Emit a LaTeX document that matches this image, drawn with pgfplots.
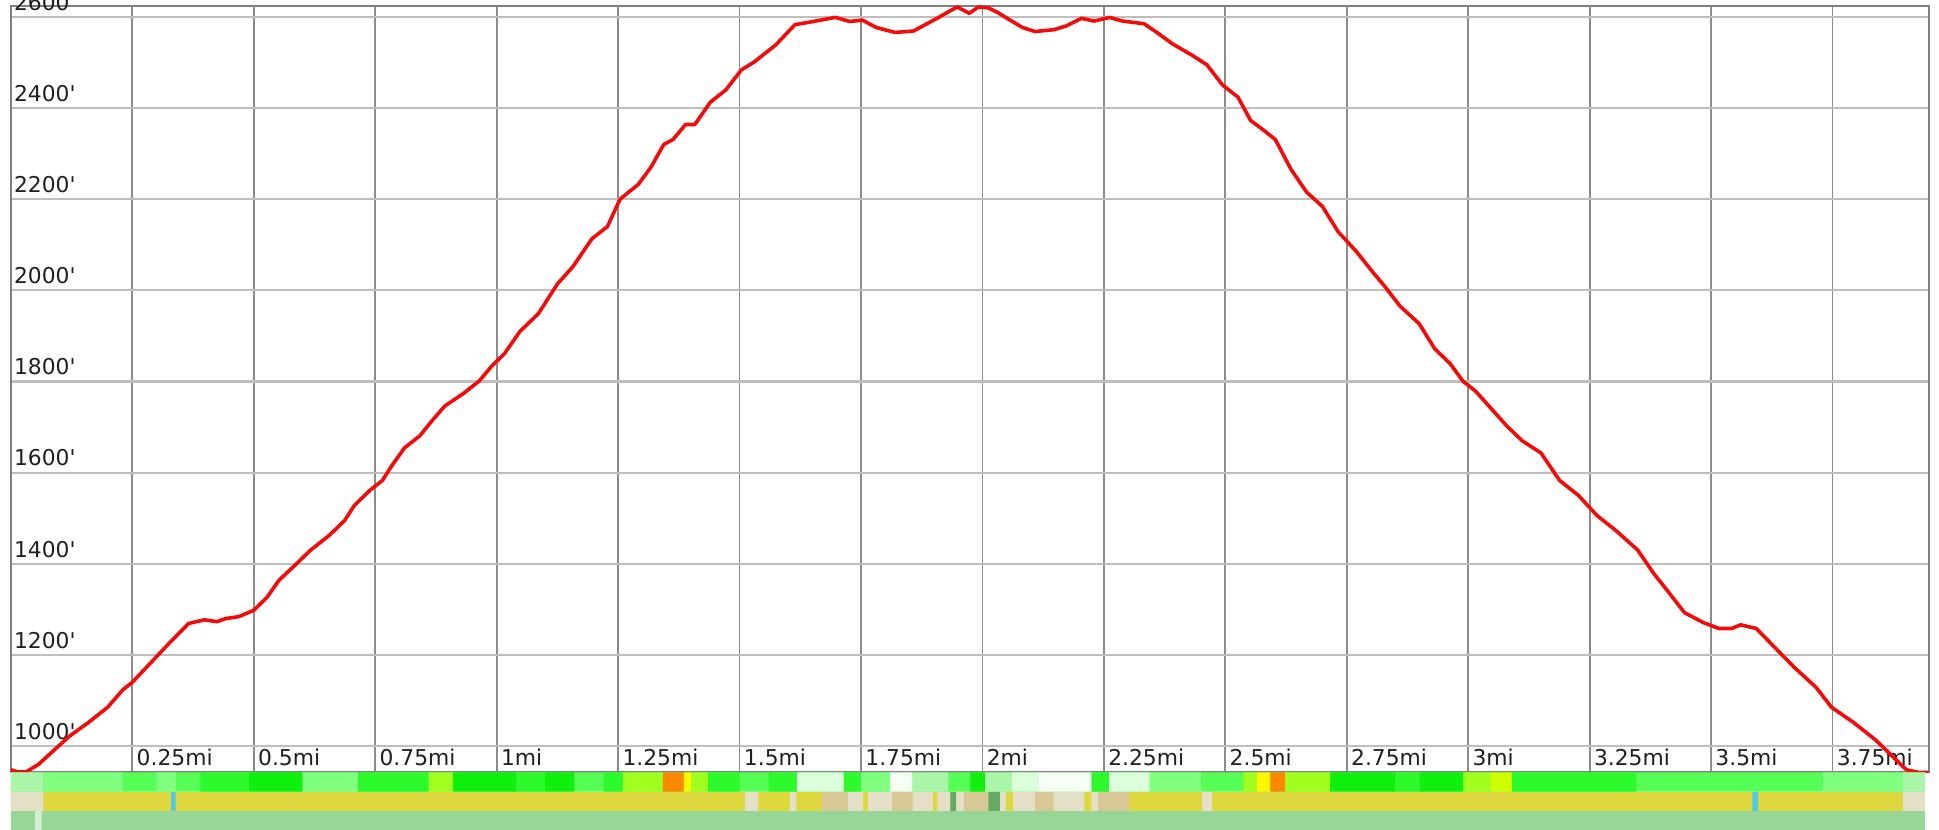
\documentclass[border=0pt]{standalone}
\usepackage{pgfplots}
\pgfplotsset{compat=1.18}
\usepackage{fontspec}
\setmainfont{DejaVu Sans}
\definecolor{cA}{RGB}{170,245,170}
\definecolor{cB}{RGB}{128,255,128}
\definecolor{cC}{RGB}{85,255,85}
\definecolor{cD}{RGB}{45,250,45}
\definecolor{cE}{RGB}{15,240,15}
\definecolor{cF}{RGB}{160,255,30}
\definecolor{cFF}{RGB}{205,255,0}
\definecolor{cG}{RGB}{255,245,0}
\definecolor{cH}{RGB}{255,135,0}
\definecolor{cI}{RGB}{220,255,220}
\definecolor{cJ}{RGB}{245,255,245}
\definecolor{cK}{RGB}{220,216,62}
\definecolor{cL}{RGB}{228,224,200}
\definecolor{cM}{RGB}{216,200,150}
\definecolor{cN}{RGB}{80,200,230}
\definecolor{cO}{RGB}{100,170,100}
\definecolor{cP}{RGB}{150,214,150}
\definecolor{cQ}{RGB}{215,238,215}
\definecolor{gridv}{RGB}{140,140,140}
\definecolor{gridh}{RGB}{190,190,190}
\definecolor{frame}{RGB}{128,128,128}
\definecolor{trail}{RGB}{245,10,10}

\pgfplotstableread{
x y
0.000 948
0.015 943
0.031 943
0.057 960
0.096 998
0.121 1022
0.160 1052
0.199 1085
0.231 1124
0.250 1140
0.289 1184
0.327 1227
0.366 1269
0.398 1277
0.424 1273
0.443 1280
0.469 1284
0.500 1298
0.527 1326
0.552 1364
0.585 1397
0.617 1430
0.655 1462
0.687 1495
0.707 1528
0.739 1561
0.765 1583
0.784 1615
0.810 1654
0.842 1681
0.867 1714
0.893 1746
0.932 1774
0.964 1801
0.990 1834
1.016 1861
1.048 1910
1.086 1949
1.125 2014
1.157 2052
1.196 2113
1.228 2140
1.254 2200
1.292 2233
1.318 2271
1.344 2320
1.363 2331
1.389 2364
1.408 2364
1.440 2413
1.472 2440
1.504 2484
1.530 2501
1.575 2539
1.614 2583
1.652 2590
1.697 2599
1.727 2590
1.753 2593
1.781 2577
1.820 2566
1.858 2569
1.910 2599
1.948 2622
1.973 2608
1.992 2622
2.012 2620
2.031 2610
2.057 2593
2.082 2577
2.108 2568
2.147 2572
2.172 2580
2.204 2597
2.230 2591
2.262 2599
2.288 2591
2.333 2585
2.359 2566
2.391 2541
2.430 2517
2.462 2495
2.494 2451
2.526 2424
2.552 2373
2.577 2353
2.603 2331
2.635 2266
2.667 2216
2.700 2184
2.732 2129
2.770 2085
2.802 2042
2.828 2009
2.860 1965
2.899 1927
2.931 1872
2.963 1839
2.989 1801
3.015 1779
3.047 1741
3.079 1703
3.111 1670
3.150 1643
3.188 1583
3.227 1550
3.265 1506
3.304 1473
3.349 1430
3.381 1380
3.413 1337
3.445 1293
3.484 1271
3.516 1258
3.542 1258
3.561 1266
3.593 1258
3.626 1222
3.671 1173
3.716 1129
3.748 1085
3.793 1052
3.838 1014
3.870 981
3.902 948
3.928 942
3.947 942
}\profile

\begin{document}
\begin{tikzpicture}
\useasboundingbox (-5.45pt,-28.75pt) rectangle (964.05pt,386.25pt);
\begin{axis}[
  at={(0pt,0pt)}, anchor=south west,
  scale only axis, width=958.9pt, height=383.25pt,
  xmin=0, xmax=3.948, ymin=942, ymax=2624,
  xtick={0.25,0.5,0.75,1,1.25,1.5,1.75,2,2.25,2.5,2.75,3,3.25,3.5,3.75},
  xticklabels={0.25mi,0.5mi,0.75mi,1mi,1.25mi,1.5mi,1.75mi,2mi,2.25mi,2.5mi,2.75mi,3mi,3.25mi,3.5mi,3.75mi},
  ytick={1000,1200,1400,1600,1800,2000,2200,2400,2600},
  yticklabels={1000\textquotesingle,1200\textquotesingle,1400\textquotesingle,1600\textquotesingle,1800\textquotesingle,2000\textquotesingle,2200\textquotesingle,2400\textquotesingle,2600\textquotesingle},
  major tick length=0pt,
  tick style={draw=none},
  xmajorgrids, ymajorgrids,
  x grid style={color=gridv, line width=0.9pt},
  y grid style={color=gridh, line width=1.1pt},
  axis line style={color=frame, line width=1pt},
  xticklabel style={anchor=south west, inner xsep=2pt, inner ysep=3.2pt, font=\fontsize{10.9}{12}\selectfont, text=black!88},
  yticklabel style={anchor=south west, inner xsep=1.4pt, inner ysep=3pt, font=\fontsize{10.9}{12}\selectfont, text=black!88},
]
\addplot[color=trail, line width=1.8pt, line join=round, line cap=round, no marks] table[x=x, y=y] {\profile};
\end{axis}

\begin{axis}[
  at={(0pt,0pt)}, anchor=north west,
  scale only axis, width=958.9pt, height=28.75pt,
  xmin=0, xmax=3.948, ymin=0, ymax=3,
  axis lines=none, ticks=none,
  unbounded coords=jump,
  every axis plot/.append style={draw=none, no marks},
]
% row 3 (bottom)
\addplot[fill=cP] coordinates {(0,0) (3.94,0) (3.94,1) (0,1) (0,0)};
\addplot[fill=cQ] coordinates {(0.050,0) (0.063,0) (0.063,1) (0.050,1) (0.050,0)};
% row 2 (middle)
\addplot[fill=cK] coordinates {(0,1) (3.94,1) (3.94,2) (0,2) (0,1)};
\addplot[fill=cL] coordinates {
(0,1) (0.067,1) (0.067,2) (0,2) (0,1) (nan,nan)
(1.511,1) (1.539,1) (1.539,2) (1.511,2) (1.511,1) (nan,nan)
(1.604,1) (1.617,1) (1.617,2) (1.604,2) (1.604,1) (nan,nan)
(1.723,1) (1.754,1) (1.754,2) (1.723,2) (1.723,1) (nan,nan)
(1.764,1) (1.814,1) (1.814,2) (1.764,2) (1.764,1) (nan,nan)
(1.856,1) (1.898,1) (1.898,2) (1.856,2) (1.856,1) (nan,nan)
(1.907,1) (1.934,1) (1.934,2) (1.907,2) (1.907,1) (nan,nan)
(1.946,1) (1.962,1) (1.962,2) (1.946,2) (1.946,1) (nan,nan)
(2.036,1) (2.049,1) (2.049,2) (2.036,2) (2.036,1) (nan,nan)
(2.063,1) (2.108,1) (2.108,2) (2.063,2) (2.063,1) (nan,nan)
(2.146,1) (2.210,1) (2.210,2) (2.146,2) (2.146,1) (nan,nan)
(2.224,1) (2.238,1) (2.238,2) (2.224,2) (2.224,1) (nan,nan)
(2.452,1) (2.473,1) (2.473,2) (2.452,2) (2.452,1) (nan,nan)
(3.895,1) (3.940,1) (3.940,2) (3.895,2) (3.895,1)
};
\addplot[fill=cM] coordinates {
(1.670,1) (1.723,1) (1.723,2) (1.670,2) (1.670,1) (nan,nan)
(1.814,1) (1.856,1) (1.856,2) (1.814,2) (1.814,1) (nan,nan)
(1.962,1) (2.012,1) (2.012,2) (1.962,2) (1.962,1) (nan,nan)
(2.108,1) (2.146,1) (2.146,2) (2.108,2) (2.108,1) (nan,nan)
(2.238,1) (2.302,1) (2.302,2) (2.238,2) (2.238,1)
};
\addplot[fill=cO] coordinates {
(1.934,1) (1.946,1) (1.946,2) (1.934,2) (1.934,1) (nan,nan)
(2.012,1) (2.036,1) (2.036,2) (2.012,2) (2.012,1)
};
\addplot[fill=cN] coordinates {
(0.330,1) (0.339,1) (0.339,2) (0.330,2) (0.330,1) (nan,nan)
(3.585,1) (3.597,1) (3.597,2) (3.585,2) (3.585,1)
};
% row 1 (top)
\addplot[fill=cC] coordinates {(0,2) (3.94,2) (3.94,3) (0,3) (0,2)};
\addplot[fill=cA] coordinates {
(0,2) (0.067,2) (0.067,3) (0,3) (0,2) (nan,nan)
(1.856,2) (1.930,2) (1.930,3) (1.856,3) (1.856,2) (nan,nan)
(2.005,2) (2.060,2) (2.060,3) (2.005,3) (2.005,2) (nan,nan)
(3.895,2) (3.940,2) (3.940,3) (3.895,3) (3.895,2)
};
\addplot[fill=cB] coordinates {
(0.067,2) (0.230,2) (0.230,3) (0.067,3) (0.067,2) (nan,nan)
(0.300,2) (0.340,2) (0.340,3) (0.300,3) (0.300,2) (nan,nan)
(0.600,2) (0.715,2) (0.715,3) (0.600,3) (0.600,2) (nan,nan)
(1.750,2) (1.810,2) (1.810,3) (1.750,3) (1.750,2) (nan,nan)
(2.344,2) (2.450,2) (2.450,3) (2.344,3) (2.344,2) (nan,nan)
(3.730,2) (3.895,2) (3.895,3) (3.730,3) (3.730,2)
};
\addplot[fill=cD] coordinates {
(0.390,2) (0.490,2) (0.490,3) (0.390,3) (0.390,2) (nan,nan)
(0.715,2) (0.860,2) (0.860,3) (0.715,3) (0.715,2) (nan,nan)
(1.040,2) (1.100,2) (1.100,3) (1.040,3) (1.040,2) (nan,nan)
(1.220,2) (1.260,2) (1.260,3) (1.220,3) (1.220,2) (nan,nan)
(1.435,2) (1.500,2) (1.500,3) (1.435,3) (1.435,2) (nan,nan)
(1.560,2) (1.618,2) (1.618,3) (1.560,3) (1.560,2) (nan,nan)
(1.714,2) (1.750,2) (1.750,3) (1.714,3) (1.714,2) (nan,nan)
(2.224,2) (2.261,2) (2.261,3) (2.224,3) (2.224,2) (nan,nan)
(2.850,2) (2.900,2) (2.900,3) (2.850,3) (2.850,2) (nan,nan)
(3.090,2) (3.345,2) (3.345,3) (3.090,3) (3.090,2)
};
\addplot[fill=cE] coordinates {
(0.490,2) (0.600,2) (0.600,3) (0.490,3) (0.490,2) (nan,nan)
(0.910,2) (1.040,2) (1.040,3) (0.910,3) (0.910,2) (nan,nan)
(1.100,2) (1.160,2) (1.160,3) (1.100,3) (1.100,2) (nan,nan)
(1.975,2) (2.005,2) (2.005,3) (1.975,3) (1.975,2) (nan,nan)
(2.716,2) (2.850,2) (2.850,3) (2.716,3) (2.716,2) (nan,nan)
(2.900,2) (2.990,2) (2.990,3) (2.900,3) (2.900,2)
};
\addplot[fill=cF] coordinates {
(0.860,2) (0.910,2) (0.910,3) (0.860,3) (0.860,2) (nan,nan)
(1.260,2) (1.342,2) (1.342,3) (1.260,3) (1.260,2) (nan,nan)
(1.400,2) (1.435,2) (1.435,3) (1.400,3) (1.400,2) (nan,nan)
(2.537,2) (2.565,2) (2.565,3) (2.537,3) (2.537,2) (nan,nan)
(2.623,2) (2.716,2) (2.716,3) (2.623,3) (2.623,2) (nan,nan)
(2.990,2) (3.047,2) (3.047,3) (2.990,3) (2.990,2)
};
\addplot[fill=cFF] coordinates {(3.047,2) (3.090,2) (3.090,3) (3.047,3) (3.047,2)};
\addplot[fill=cG] coordinates {
(1.385,2) (1.400,2) (1.400,3) (1.385,3) (1.385,2) (nan,nan)
(2.565,2) (2.593,2) (2.593,3) (2.565,3) (2.565,2)
};
\addplot[fill=cH] coordinates {
(1.342,2) (1.385,2) (1.385,3) (1.342,3) (1.342,2) (nan,nan)
(2.593,2) (2.623,2) (2.623,3) (2.593,3) (2.593,2)
};
\addplot[fill=cI] coordinates {
(1.618,2) (1.714,2) (1.714,3) (1.618,3) (1.618,2) (nan,nan)
(2.060,2) (2.113,2) (2.113,3) (2.060,3) (2.060,2) (nan,nan)
(2.261,2) (2.344,2) (2.344,3) (2.261,3) (2.261,2)
};
\addplot[fill=cJ] coordinates {
(1.810,2) (1.856,2) (1.856,3) (1.810,3) (1.810,2) (nan,nan)
(2.113,2) (2.224,2) (2.224,3) (2.113,3) (2.113,2)
};
\end{axis}
\end{tikzpicture}
\end{document}
